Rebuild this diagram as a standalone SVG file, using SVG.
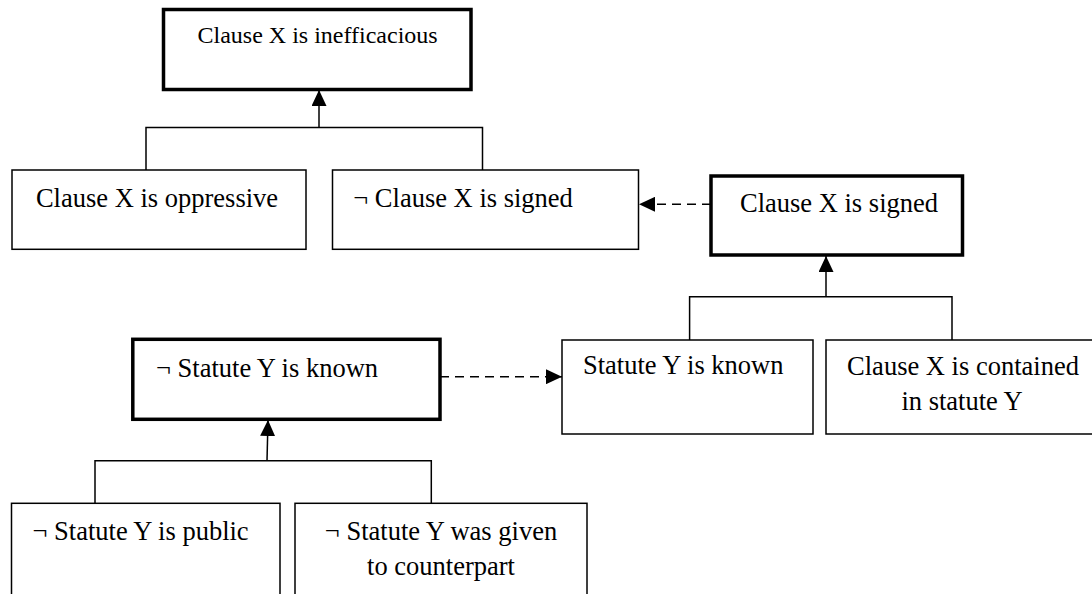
<svg xmlns="http://www.w3.org/2000/svg" width="1092" height="594" viewBox="0 0 1092 594">
<style>
.box{fill:#fff;stroke:#000;stroke-width:1.5}
.thick{fill:#fff;stroke:#000;stroke-width:3.5}
.t{font-family:"Liberation Serif","Times New Roman",serif;font-size:26.5px;fill:#000}
.tt{font-family:"Liberation Serif","Times New Roman",serif;font-size:24px;fill:#000}
.ln{fill:none;stroke:#000;stroke-width:1.5}
.dash{fill:none;stroke:#000;stroke-width:1.6;stroke-dasharray:9 6}
</style>
<defs>
<marker id="ah" markerUnits="userSpaceOnUse" markerWidth="16" markerHeight="15" refX="16" refY="7.5" orient="auto">
<path d="M0,0 L16,7.5 L0,15 Z" fill="#000"/>
</marker>
</defs>
<rect width="1092" height="594" fill="#fff"/>
<g id="connectors">
<polyline class="ln" points="146,170 146,127.5 482.5,127.5 482.5,170"/>
<line class="ln" x1="319" y1="127.5" x2="319" y2="90" marker-end="url(#ah)"/>
<line class="dash" x1="711" y1="204.3" x2="639" y2="204.3" marker-end="url(#ah)"/>
<polyline class="ln" points="689.6,340 689.6,296.7 952,296.7 952,340"/>
<line class="ln" x1="826" y1="296.7" x2="826" y2="256" marker-end="url(#ah)"/>
<line class="dash" x1="440" y1="376.7" x2="562" y2="376.7" marker-end="url(#ah)"/>
<polyline class="ln" points="95,503.3 95,460.7 431.3,460.7 431.3,503.3"/>
<line class="ln" x1="267" y1="460.7" x2="268" y2="420" marker-end="url(#ah)"/>
</g>
<g id="n-ineff">
<rect class="thick" x="163.5" y="9.5" width="307.5" height="80"/>
<text class="tt" x="197.5" y="43.3">Clause X is inefficacious</text>
</g>
<g id="n-oppressive">
<rect class="box" x="12" y="170" width="294" height="79.3"/>
<text class="t" x="157" y="206.7" text-anchor="middle">Clause X is oppressive</text>
</g>
<g id="n-notsigned">
<rect class="box" x="332.5" y="170" width="306" height="79.3"/>
<text class="t" x="353.3" y="207.3">¬ Clause X is signed</text>
</g>
<g id="n-signed">
<rect class="thick" x="711" y="176" width="251.5" height="79"/>
<text class="t" x="740" y="211.7">Clause X is signed</text>
</g>
<g id="n-known">
<rect class="box" x="562" y="340" width="251" height="94"/>
<text class="t" x="583" y="374.3">Statute Y is known</text>
</g>
<g id="n-contained">
<rect class="box" x="826" y="340" width="274" height="94"/>
<text class="t" x="963" y="375" text-anchor="middle">Clause X is contained</text>
<text class="t" x="962" y="410" text-anchor="middle">in statute Y</text>
</g>
<g id="n-notknown">
<rect class="thick" x="132.8" y="339.3" width="307.2" height="80"/>
<text class="t" x="156" y="377">¬ Statute Y is known</text>
</g>
<g id="n-notpublic">
<rect class="box" x="11.5" y="503.3" width="268.5" height="100"/>
<text class="t" x="32.5" y="540">¬ Statute Y is public</text>
</g>
<g id="n-notgiven">
<rect class="box" x="295" y="503.3" width="292" height="100"/>
<text class="t" x="441" y="540" text-anchor="middle">¬ Statute Y was given</text>
<text class="t" x="441" y="575" text-anchor="middle">to counterpart</text>
</g>
</svg>
